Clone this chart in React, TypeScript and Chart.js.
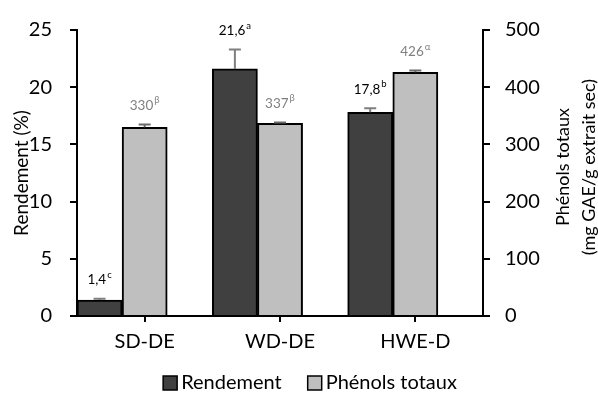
import React, { useEffect, useRef } from "react";
import { Chart, registerables } from "chart.js";

Chart.register(...registerables);

const categories = ["SD-DE", "WD-DE", "HWE-D"];
const rendement = [1.4, 21.6, 17.8];
const rendementErr = [0.1, 1.7, 0.35];
const rendementLetters = ["c", "a", "b"];
const phenols = [330, 337, 426];
const phenolsErr = [5, 1.5, 3];
const phenolsLetters = ["β", "β", "α"];
const leftTicks = [0, 5, 10, 15, 20, 25];
const rightTicks = [0, 100, 200, 300, 400, 500];

const FONT = "Lato, 'Liberation Sans', sans-serif";
const DARK = "#404040";
const LIGHT = "#bfbfbf";

const fmt = (v: number) => v.toFixed(1).replace(".", ",");

const errorBarPlugin = {
  id: "errorBars",
  afterDatasetsDraw(chart: any) {
    const ctx = chart.ctx;
    const sets = [
      { idx: 0, vals: rendement, errs: rendementErr, axis: "y", color: "#7f7f7f" },
      { idx: 1, vals: phenols, errs: phenolsErr, axis: "y1", color: "#6a6a6a" },
    ];
    ctx.save();
    sets.forEach((s) => {
      const meta = chart.getDatasetMeta(s.idx);
      const scale = chart.scales[s.axis];
      meta.data.forEach((bar: any, i: number) => {
        const y0 = scale.getPixelForValue(s.vals[i]);
        const y1 = scale.getPixelForValue(s.vals[i] + s.errs[i]);
        ctx.strokeStyle = s.color;
        ctx.lineWidth = 2;
        ctx.beginPath();
        ctx.moveTo(bar.x, y0);
        ctx.lineTo(bar.x, y1);
        ctx.moveTo(bar.x - 6, y1);
        ctx.lineTo(bar.x + 6, y1);
        ctx.stroke();
      });
    });
    ctx.restore();
  },
};

const labelPlugin = {
  id: "barLabels",
  afterDatasetsDraw(chart: any) {
    const ctx = chart.ctx;
    const sets = [
      { idx: 0, vals: rendement, errs: rendementErr, letters: rendementLetters, axis: "y", color: "#000000", f: fmt },
      { idx: 1, vals: phenols, errs: phenolsErr, letters: phenolsLetters, axis: "y1", color: "#808080", f: (v: number) => String(v) },
    ];
    ctx.save();
    ctx.textBaseline = "middle";
    ctx.textAlign = "left";
    sets.forEach((s) => {
      const meta = chart.getDatasetMeta(s.idx);
      const scale = chart.scales[s.axis];
      meta.data.forEach((bar: any, i: number) => {
        const top = scale.getPixelForValue(s.vals[i] + s.errs[i]);
        const y = top - 19;
        const main = s.f(s.vals[i]);
        const sup = s.letters[i];
        ctx.font = `13.5px ${FONT}`;
        const w1 = ctx.measureText(main).width;
        ctx.font = `9.5px ${FONT}`;
        const w2 = ctx.measureText(sup).width;
        const x0 = bar.x - (w1 + w2 + 1) / 2;
        ctx.fillStyle = s.color;
        ctx.font = `13.5px ${FONT}`;
        ctx.fillText(main, x0, y);
        ctx.font = `9.5px ${FONT}`;
        ctx.fillText(sup, x0 + w1 + 1, y - 5);
      });
    });
    ctx.restore();
  },
};

const rightTitlePlugin = {
  id: "rightTitle",
  afterDraw(chart: any) {
    const ctx = chart.ctx;
    const a = chart.chartArea;
    const cy = (a.top + a.bottom) / 2 - 6;
    ctx.save();
    ctx.fillStyle = "#000";
    ctx.font = `18px ${FONT}`;
    ctx.textAlign = "center";
    ctx.textBaseline = "middle";
    const lines = ["Phénols totaux", "(mg GAE/g extrait sec)"];
    lines.forEach((t, k) => {
      ctx.save();
      ctx.translate(a.right + 80 + k * 26, cy);
      ctx.rotate(-Math.PI / 2);
      ctx.fillText(t, 0, 0);
      ctx.restore();
    });
    ctx.restore();
  },
};

const legendPlugin = {
  id: "customLegend",
  afterDraw(chart: any) {
    const ctx = chart.ctx;
    const items = [0, 1].map((i) => chart.data.datasets[i]);
    ctx.save();
    ctx.font = `20px ${FONT}`;
    ctx.textBaseline = "middle";
    ctx.textAlign = "left";
    const box = 14;
    const gapText = 4;
    const gapItem = 26;
    const widths = items.map((d: any) => box + gapText + ctx.measureText(d.label).width);
    const total = widths[0] + gapItem + widths[1];
    let x = 310 - total / 2;
    const y = 383;
    items.forEach((d: any, k: number) => {
      ctx.fillStyle = d.backgroundColor;
      ctx.fillRect(x, y - box / 2, box, box);
      ctx.strokeStyle = "#000";
      ctx.lineWidth = 1.5;
      ctx.strokeRect(x, y - box / 2, box, box);
      ctx.fillStyle = "#000";
      ctx.fillText(d.label, x + box + gapText, y);
      x += widths[k] + gapItem;
    });
    ctx.restore();
  },
};

export default function App() {
  const ref = useRef<HTMLCanvasElement>(null);
  useEffect(() => {
    if (!ref.current) return;
    const chart = new Chart(ref.current, {
      type: "bar",
      data: {
        labels: categories,
        datasets: [
          { label: "Rendement", data: rendement, backgroundColor: DARK, borderColor: "#000", borderWidth: 2, yAxisID: "y" },
          { label: "Phénols totaux", data: phenols, backgroundColor: LIGHT, borderColor: "#000", borderWidth: 2, yAxisID: "y1" },
          { label: "", data: [null, null, null], backgroundColor: "rgba(0,0,0,0)", yAxisID: "y" },
        ],
      },
      options: {
        animation: false,
        responsive: true,
        maintainAspectRatio: false,
        layout: { padding: { top: 25, bottom: 34, left: 0, right: 0 } },
        datasets: { bar: { categoryPercentage: 1, barPercentage: 1 } },
        plugins: { legend: { display: false }, tooltip: { enabled: false } },
        scales: {
          x: {
            offset: true,
            grid: { display: true, drawOnChartArea: false, offset: false, tickLength: 6, color: "#000", lineWidth: 2 },
            border: { display: true, color: "#000", width: 2 },
            ticks: { color: "#000", font: { family: FONT, size: 20 }, padding: 8 },
            afterFit: (s: any) => { s.height = 44; },
          },
          y: {
            position: "left",
            min: 0,
            max: 25,
            afterBuildTicks: (s: any) => { s.ticks = leftTicks.map((v) => ({ value: v })); },
            grid: { display: true, drawOnChartArea: false, tickLength: 7, color: "#000", lineWidth: 2 },
            border: { display: true, color: "#000", width: 2 },
            ticks: { color: "#000", font: { family: FONT, size: 20 }, padding: 18 },
            title: { display: true, text: "Rendement (%)", color: "#000", font: { family: FONT, size: 19 }, padding: { top: 10, bottom: 0 } },
            afterFit: (s: any) => { s.width = 77; },
          },
          y1: {
            position: "right",
            min: 0,
            max: 500,
            afterBuildTicks: (s: any) => { s.ticks = rightTicks.map((v) => ({ value: v })); },
            grid: { display: true, drawOnChartArea: false, tickLength: 7, color: "#000", lineWidth: 2 },
            border: { display: true, color: "#000", width: 2 },
            ticks: { color: "#000", font: { family: FONT, size: 20 }, padding: 15 },
            afterFit: (s: any) => { s.width = 115; },
          },
        },
      },
      plugins: [errorBarPlugin, labelPlugin, rightTitlePlugin, legendPlugin],
    } as any);
    return () => chart.destroy();
  }, []);
  return (
    <div style={{ position: "absolute", left: 0, top: 0, width: 598, height: 394, background: "#fff" }}>
      <canvas ref={ref} />
    </div>
  );
}
